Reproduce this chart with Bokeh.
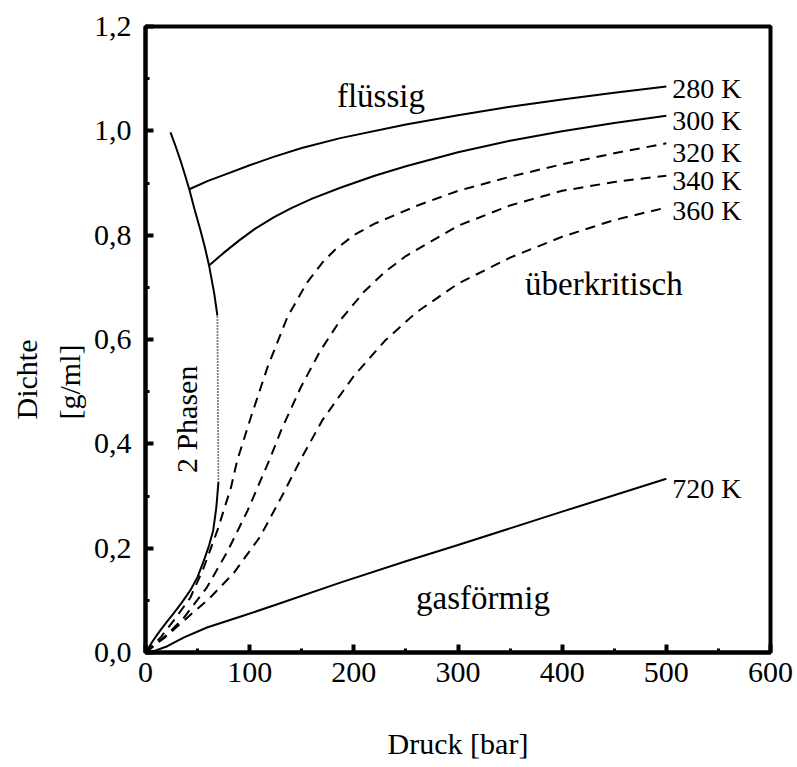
from bokeh.plotting import figure
from bokeh.models import Range1d, FixedTicker, CustomJSTickFormatter, Label, Title
from bokeh.embed import file_html
from bokeh.resources import INLINE

# ---- data ----
# coexistence curve (2-phase boundary)
gas_side_p = [0, 7, 14, 21, 27, 35, 43, 50, 56, 61, 65, 68, 70]
gas_side_d = [0.0, 0.022, 0.042, 0.060, 0.075, 0.096, 0.119, 0.145, 0.176, 0.205, 0.234, 0.278, 0.326]
dotted_p = [70, 69]
dotted_d = [0.326, 0.646]
liq_side_p = [69, 66, 61, 57, 52.8, 47, 42, 38, 33.6, 29, 24]
liq_side_d = [0.646, 0.688, 0.742, 0.777, 0.809, 0.850, 0.888, 0.915, 0.943, 0.970, 0.997]

t280_p = [42, 60, 80, 100, 123, 150, 187, 250, 300, 350, 400, 450, 500]
t280_d = [0.888, 0.904, 0.919, 0.934, 0.950, 0.967, 0.986, 1.012, 1.030, 1.046, 1.060, 1.073, 1.085]

t300_p = [61, 75, 90, 105, 123, 140, 160, 187, 220, 250, 300, 350, 400, 450, 500]
t300_d = [0.742, 0.766, 0.790, 0.812, 0.834, 0.852, 0.870, 0.891, 0.914, 0.932, 0.959, 0.981,
          0.999, 1.015, 1.029]

t320_p = [0, 15, 27, 43, 56, 69, 82, 88, 101, 117, 136, 155, 170, 182, 200, 220, 260, 300,
          350, 400, 450, 500]
t320_d = [0.0, 0.030, 0.061, 0.105, 0.163, 0.234, 0.316, 0.368, 0.450, 0.546, 0.642, 0.709,
          0.748, 0.772, 0.800, 0.822, 0.856, 0.885, 0.912, 0.936, 0.957, 0.976]

t340_p = [0, 20, 37, 59, 79, 98, 120, 130, 149, 168, 187, 210, 230, 250, 300, 350, 400, 450, 500]
t340_d = [0.0, 0.033, 0.067, 0.125, 0.195, 0.272, 0.374, 0.425, 0.508, 0.579, 0.637, 0.692,
          0.730, 0.760, 0.818, 0.857, 0.885, 0.902, 0.914]

t360_p = [0, 18, 34, 62, 85, 110, 130, 149, 170, 200, 230, 260, 300, 350, 400, 450, 500]
t360_d = [0.0, 0.028, 0.056, 0.105, 0.153, 0.222, 0.296, 0.370, 0.446, 0.530, 0.598, 0.652,
          0.707, 0.757, 0.797, 0.829, 0.853]

t720_p = [0, 10, 21, 37, 59, 90, 123, 187, 250, 300, 400, 500]
t720_d = [0.0, 0.004, 0.012, 0.029, 0.048, 0.068, 0.090, 0.134, 0.175, 0.206, 0.270, 0.333]

curve_labels = ["280 K", "300 K", "320 K", "340 K", "360 K", "720 K"]
curve_label_y = [1.081, 1.020, 0.958, 0.905, 0.847, 0.314]
curve_label_x = 500

region_texts = ["flüssig", "überkritisch", "gasförmig"]
region_x = [226, 440, 324]
region_y = [1.066, 0.707, 0.105]

x_ticks = [0, 100, 200, 300, 400, 500, 600]
x_minor = [50, 150, 250, 350, 450, 550]
y_ticks = [0.0, 0.2, 0.4, 0.6, 0.8, 1.0, 1.2]
y_minor = [0.1, 0.3, 0.5, 0.7, 0.9, 1.1]

FONT = "Liberation Serif"

p = figure(width=797, height=767, output_backend="svg", toolbar_location=None,
           x_range=Range1d(0, 600), y_range=Range1d(0, 1.2),
           min_border_left=145, min_border_right=27, min_border_top=26, min_border_bottom=115)
p.background_fill_color = "white"
p.border_fill_color = "white"
p.grid.visible = False
p.outline_line_color = "black"
p.outline_line_width = 4

for ax in (p.xaxis[0], p.yaxis[0]):
    ax.axis_line_width = 4
    ax.major_tick_in = 8
    ax.major_tick_out = 0
    ax.minor_tick_in = 4
    ax.minor_tick_out = 0
    ax.major_tick_line_width = 4
    ax.minor_tick_line_width = 3
    ax.major_label_text_font = FONT
    ax.major_label_text_font_size = "30px"
    ax.major_label_text_color = "black"
    ax.axis_label_text_font = FONT
    ax.axis_label_text_font_style = "normal"
    ax.axis_label_text_font_size = "30px"
    ax.axis_label_text_color = "black"

p.xaxis.ticker = FixedTicker(ticks=x_ticks, minor_ticks=x_minor)
p.yaxis.ticker = FixedTicker(ticks=y_ticks, minor_ticks=y_minor)
p.yaxis.formatter = CustomJSTickFormatter(code="return tick.toFixed(1).replace('.', ',');")
p.xaxis.major_label_standoff = 10
p.yaxis.major_label_standoff = 14
p.xaxis.axis_label = "Druck [bar]"
p.xaxis.axis_label_standoff = 42

lw = 2
p.line(gas_side_p, gas_side_d, line_color="black", line_width=lw)
p.line(dotted_p, dotted_d, line_color="black", line_width=1.8, line_dash="1 2")
p.line(liq_side_p, liq_side_d, line_color="black", line_width=lw)
p.line(t280_p, t280_d, line_color="black", line_width=lw)
p.line(t300_p, t300_d, line_color="black", line_width=lw)
for xs, ys in ((t320_p, t320_d), (t340_p, t340_d), (t360_p, t360_d)):
    p.line(xs, ys, line_color="black", line_width=lw, line_dash="10 7")
p.line(t720_p, t720_d, line_color="black", line_width=lw)

for txt, yy in zip(curve_labels, curve_label_y):
    p.add_layout(Label(x=curve_label_x, y=yy, x_offset=6, text=txt, text_font=FONT,
                       text_font_size="28px", text_align="left", text_baseline="middle",
                       text_color="black"))

for txt, xx, yy in zip(region_texts, region_x, region_y):
    p.add_layout(Label(x=xx, y=yy, text=txt, text_font=FONT, text_font_size="33px",
                       text_align="center", text_baseline="middle", text_color="black"))

p.add_layout(Label(x=39, y=0.447, text="2 Phasen", angle=1.5708, text_font=FONT,
                   text_font_size="30px", text_align="center", text_baseline="middle",
                   text_color="black"))

# y-axis title (two lines, rotated), placed as left-side titles
t_unit = Title(text="[g/ml]", align="left", offset=233, text_font=FONT,
               text_font_size="30px", text_font_style="normal", text_color="black",
               standoff=10)
t_name = Title(text="Dichte", align="left", offset=233, text_font=FONT,
               text_font_size="30px", text_font_style="normal", text_color="black",
               standoff=6)
p.add_layout(t_unit, "left")
p.add_layout(t_name, "left")

open("out.html", "w").write(file_html(p, INLINE))
